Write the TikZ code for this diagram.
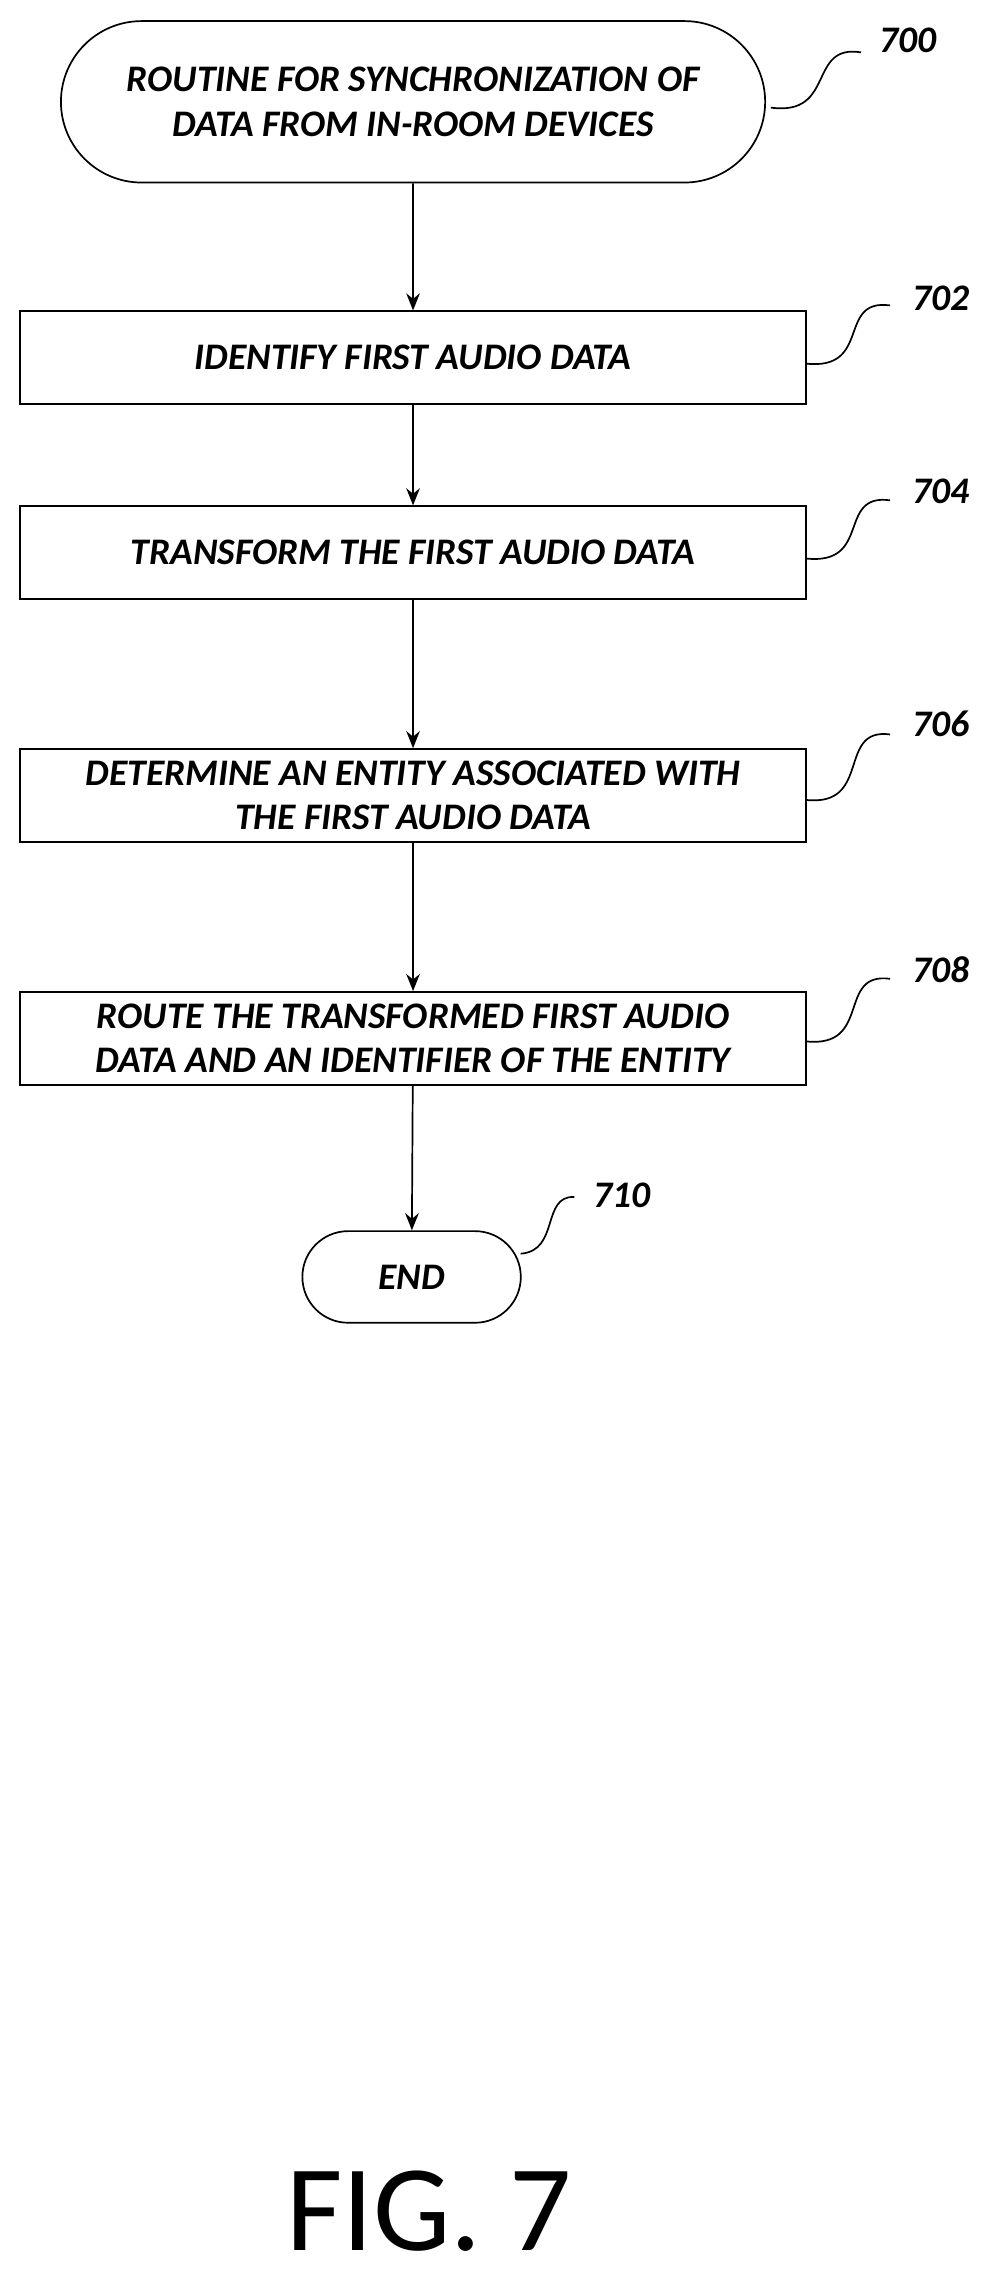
\documentclass[tikz,border=0pt]{standalone}
\usepackage{fontspec}
\setmainfont{Carlito}
\usetikzlibrary{arrows.meta,shapes.misc,positioning}

\begin{document}
\begin{tikzpicture}[x=0.03cm,y=-0.03cm]
        \tikzstyle{stp}=[draw, semithick, line width=1pt, minimum width=16.2cm, minimum height=1.92cm, align=center, inner sep=2pt, font=\fontsize{22}{26}\selectfont\bfseries\itshape]
        \tikzstyle{term}=[draw, line width=1pt, rounded rectangle, align=center, font=\fontsize{22}{26}\selectfont\bfseries\itshape]
        \tikzstyle{ref}=[font=\fontsize{22}{26}\selectfont\bfseries\itshape]
        \tikzstyle{flow}=[draw, line width=1pt, -{Stealth[length=10pt,width=8pt]}]
        \tikzstyle{sq}=[draw, line width=1pt]

        \useasboundingbox (0,0) rectangle (683,1567);

        \node (start) [term, minimum width=14.76cm, minimum height=3.33cm] at (284,70)
            {ROUTINE FOR SYNCHRONIZATION OF\\DATA FROM IN-ROOM DEVICES};
        \node (s702) [stp] at (284,246) {IDENTIFY FIRST AUDIO DATA};
        \node (s704) [stp] at (284,380) {TRANSFORM THE FIRST AUDIO DATA};
        \node (s706) [stp] at (284,547) {DETERMINE AN ENTITY ASSOCIATED WITH\\THE FIRST AUDIO DATA};
        \node (s708) [stp] at (284,714) {ROUTE THE TRANSFORMED FIRST AUDIO\\DATA AND AN IDENTIFIER OF THE ENTITY};
        \node (end) [term, minimum width=4.74cm, minimum height=1.89cm] at (283,878) {END};

        \draw[flow] (start)--(s702);
        \draw[flow] (s702)--(s704);
        \draw[flow] (s704)--(s706);
        \draw[flow] (s706)--(s708);
        \draw[flow] (s708)--(end);

        % reference numerals
        \node (r700) [ref] at (624,28) {700};
        \node (r702) [ref] at (647,205) {702};
        \node (r704) [ref] at (647,338) {704};
        \node (r706) [ref] at (647,498) {706};
        \node (r708) [ref] at (647,667) {708};
        \node (r710) [ref] at (428,822) {710};

        \draw[sq] (530,74) .. controls (575,80) and (555,30) .. (592,36);
        \draw[sq] (554,250) .. controls (600,255) and (575,205) .. (612,210);
        \draw[sq] (554,384) .. controls (600,389) and (575,339) .. (612,344);
        \draw[sq] (554,550) .. controls (600,555) and (575,500) .. (612,505);
        \draw[sq] (554,716) .. controls (600,721) and (575,668) .. (612,673);
        \draw[sq] (358,862) .. controls (385,860) and (372,822) .. (395,823);

        \node (fig) [font=\fontsize{72}{80}\selectfont] at (295,1520) {FIG. 7};
\end{tikzpicture}
\end{document}
